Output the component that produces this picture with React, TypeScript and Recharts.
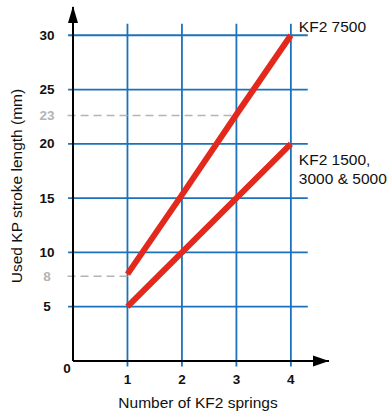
import React from 'react';
import { LineChart, Line, XAxis, YAxis, ReferenceLine, ReferenceDot } from 'recharts';

const springs = [1, 2, 3, 4];
const kf7500 = [8, 15.3, 22.7, 30];
const kfOthers = [5, 10, 15, 20];

const yGrid = [5, 10, 15, 20, 25, 30];
const xGrid = [1, 2, 3, 4];
const xTicks = [0, 1, 2, 3, 4];
// grey read-off markers: where they sit on the scale, the label printed, and the spring count they run to
const markerPos = [22.6, 7.8];
const markerLabels = ['23', '8'];
const markerX = [3, 1];
const yTicks = [...yGrid, ...markerPos].sort((a, b) => a - b);

const data = springs.map((n, i) => ({ n, a: kf7500[i], b: kfOthers[i] }));

const BLUE = '#1b72bb';
const RED = '#e3291b';
const GRAY = '#b4b4b4';
const FONT = '"Liberation Sans", Arial, Helvetica, sans-serif';

const YTick = (props: any) => {
  const v = props.payload.value;
  const mi = markerPos.indexOf(v);
  return (
    <text x={47} y={props.y} textAnchor="middle" dominantBaseline="central"
      fontFamily={FONT} fontSize={13.5} fontWeight="bold" fill={mi >= 0 ? GRAY : '#111'}>
      {mi >= 0 ? markerLabels[mi] : v}
    </text>
  );
};

const XTick = (props: any) => {
  const v = props.payload.value;
  if (v === 0) {
    return (
      <text x={props.x - 6} y={368} textAnchor="middle" dominantBaseline="central"
        fontFamily={FONT} fontSize={13.5} fontWeight="bold" fill="#111">0</text>
    );
  }
  return (
    <text x={props.x} y={379} textAnchor="middle" dominantBaseline="central"
      fontFamily={FONT} fontSize={13.5} fontWeight="bold" fill="#111">
      {v}
    </text>
  );
};

const endLabel = (lines: string[], dy: number) => (props: any) => {
  if (props.index !== springs.length - 1) return null;
  return (
    <text x={props.x + 8} y={props.y + dy} fontFamily={FONT} fontSize={15.5} fill="#111" dominantBaseline="central">
      {lines.map((t, i) => (
        <tspan key={i} x={props.x + 8} dy={i === 0 ? 0 : 19}>{t}</tspan>
      ))}
    </text>
  );
};

const upArrow = (p: any) => (
  <polygon points={`${p.cx},${p.cy - 1} ${p.cx - 5},${p.cy + 16} ${p.cx + 5},${p.cy + 16}`} fill="#000" />
);
const rightArrow = (p: any) => (
  <polygon points={`${p.cx},${p.cy} ${p.cx - 16},${p.cy - 5.5} ${p.cx - 16},${p.cy + 5.5}`} fill="#000" />
);

export default function App() {
  return (
    <div style={{ position: 'absolute', left: 0, top: 0, width: 388, height: 411, background: '#fff' }}>
      <LineChart width={388} height={411} data={data} margin={{ top: 7, right: 59, left: 0, bottom: 0 }}>
        {yGrid.map(v => (
          <ReferenceLine key={`h${v}`} segment={[{ x: -0.09, y: v }, { x: 4.31, y: v }]}
            stroke={BLUE} strokeWidth={1.8} ifOverflow="visible" />
        ))}
        {xGrid.map(v => (
          <ReferenceLine key={`v${v}`} segment={[{ x: v, y: -0.5 }, { x: v, y: 31.05 }]}
            stroke={BLUE} strokeWidth={1.8} ifOverflow="visible" />
        ))}
        {markerPos.map((v, i) => (
          <ReferenceLine key={`m${v}`} segment={[{ x: -0.1, y: v }, { x: markerX[i], y: v }]}
            stroke={GRAY} strokeWidth={1.5} strokeDasharray="8 5" ifOverflow="visible" />
        ))}
        <XAxis type="number" dataKey="n" domain={[0, 4.7]} ticks={xTicks} interval={0} height={50}
          axisLine={{ stroke: '#000', strokeWidth: 2 }} tickLine={false} tick={<XTick />}
          label={{ value: 'Number of KF2 springs', position: 'insideBottom', offset: 3, dx: -3,
            style: { fontFamily: FONT, fontSize: 15.5, fill: '#111' } }} />
        <YAxis type="number" domain={[0, 32.6]} ticks={yTicks} interval={0} width={73} allowDataOverflow
          axisLine={{ stroke: '#000', strokeWidth: 2 }} tickLine={false} tick={<YTick />}
          label={{ value: 'Used KP stroke length (mm)', angle: -90, position: 'insideLeft', offset: 16, dy: 2,
            style: { fontFamily: FONT, fontSize: 15.5, fill: '#111', textAnchor: 'middle' } }} />
        <Line dataKey="a" stroke={RED} strokeWidth={6} dot={false} isAnimationActive={false}
          label={endLabel(['KF2 7500'], -9)} />
        <Line dataKey="b" stroke={RED} strokeWidth={6} dot={false} isAnimationActive={false}
          label={endLabel(['KF2 1500,', '3000 & 5000'], 15)} />
        <ReferenceDot x={0} y={32.6} r={0} shape={upArrow} ifOverflow="visible" />
        <ReferenceDot x={4.7} y={0} r={0} shape={rightArrow} ifOverflow="visible" />
      </LineChart>
    </div>
  );
}
